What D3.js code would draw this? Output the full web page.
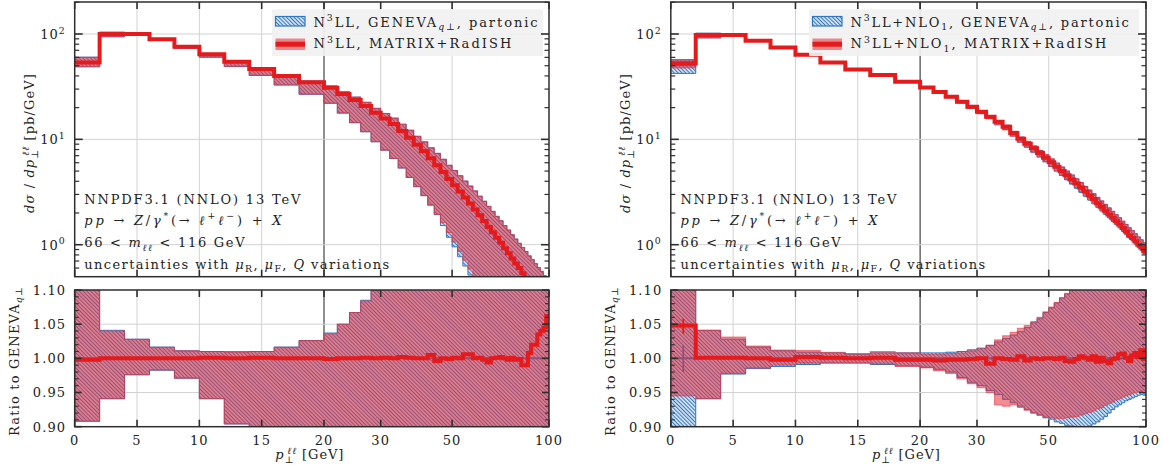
<!DOCTYPE html>
<html><head><meta charset="utf-8">
<script src="https://cdn.jsdelivr.net/npm/d3@7"></script>
<style>
html,body{margin:0;padding:0;background:#fff;}
svg{display:block;}
</style></head><body>
<svg id="chart" width="1163" height="472"></svg>
<script>
// ---------------- data ----------------
const binEdges = [0,2,4,6,8,10,12,14,16,18,20,22,24,26,28,30,32,34,36,38,40,42,44,46,48,50,52,54,56,58,60,62,64,66,68,70,72,74,76,78,80,82,84,86,88,90,92,94,96,98,100];

const xTickValues = [0,5,10,15,20,30,50,100];
const xTickLabels = ["0","5","10","15","20","30","50","100"];
const mainMajorTicks = [1,10,100];
const mainMajorExp = ["0","1","2"];
const mainMinorTicks = [0.6,0.7,0.8,0.9,2,3,4,5,6,7,8,9,20,30,40,50,60,70,80,90,200];
const ratioMajorTicks = [0.90,0.95,1.00,1.05,1.10];
const ratioTickLabels = ["0.90","0.95","1.00","1.05","1.10"];
const ratioMinorTicks = [0.91,0.92,0.93,0.94,0.96,0.97,0.98,0.99,1.01,1.02,1.03,1.04,1.06,1.07,1.08,1.09];

// Left panel: N3LL
const leftGeneva = [53.8,100,100,89,75.5,64,54.5,46.5,40,34.8,31,26.9,23.6,20.7,17.9,
  15.8,14.0,12.0,10.35,8.9,7.7,6.6,5.7,4.9,4.2,3.67,3.2,2.79,2.45,2.16,1.9,1.68,1.48,1.31,1.16,
  1.04,0.925,0.83,0.74,0.665,0.60,0.54,0.49,0.44,0.40,0.363,0.33,0.30,0.27,0.25];
const leftGenevaUp = [1.12,1.041,1.028,1.0165,1.011,1.010,1.0096,1.010,1.0165,1.026,1.037,1.05,1.067,1.085,1.099,
  1.115,1.135,1.16,1.18,1.20,1.23,1.26,1.29,1.32,1.35,1.38,1.41,1.44,1.47,1.50,1.52,1.54,1.56,1.58,1.60,
  1.62,1.64,1.66,1.68,1.70,1.72,1.74,1.76,1.78,1.80,1.82,1.84,1.86,1.88,1.90];
const leftGenevaDn = [0.908,0.941,0.976,0.9826,0.971,0.941,0.904,0.87,0.82,0.77,0.71,0.66,0.61,0.57,0.53,
  0.50,0.47,0.445,0.42,0.40,0.38,0.36,0.34,0.31,0.28,0.26,0.24,0.225,0.21,0.20,0.19,0.18,0.17,0.16,0.155,
  0.15,0.145,0.14,0.135,0.13,0.125,0.12,0.115,0.11,0.11,0.105,0.10,0.10,0.095,0.095];
const leftMatrixRatio = [0.998,1.0,1.0,1.0,1.0,1.001,1.0,1.001,1.0,1.0,0.999,1.0,1.0,1.001,1.0,
  1.001,1.0,1.002,1.001,1.0,1.0,1.005,0.996,1.0,0.999,1.001,1.0,1.006,1.006,1.0,1.001,0.998,0.994,1.0,1.001,
  1.002,1.0,0.998,1.001,0.998,0.999,0.99,0.99,1.008,1.02,1.02,1.035,1.04,1.045,1.062];
const leftMatrixUp = [1.12,1.040,1.028,1.016,1.011,1.010,1.0095,1.010,1.016,1.026,1.036,1.05,1.067,1.084,1.099,
  1.115,1.135,1.16,1.18,1.20,1.23,1.26,1.29,1.32,1.35,1.38,1.41,1.44,1.47,1.50,1.52,1.54,1.56,1.58,1.60,
  1.62,1.64,1.66,1.68,1.70,1.72,1.74,1.76,1.78,1.80,1.82,1.84,1.86,1.88,1.90];
const leftMatrixDn = [0.908,0.941,0.976,0.983,0.971,0.941,0.904,0.87,0.82,0.77,0.71,0.66,0.61,0.57,0.53,
  0.50,0.47,0.445,0.42,0.40,0.38,0.36,0.34,0.33,0.31,0.29,0.27,0.255,0.24,0.225,0.19,0.18,0.17,0.16,0.155,
  0.15,0.145,0.14,0.135,0.13,0.125,0.12,0.115,0.11,0.11,0.105,0.10,0.10,0.095,0.095];

// Right panel: N3LL+NLO1
const rightGeneva = [50.3,97.7,97.7,86.3,74.5,63.5,53.5,46,40.8,35.2,31.2,28.3,25.4,22.8,20.4,
  18.3,16.5,14.7,13.2,11.5,10.1,9.12,8.22,7.41,6.70,6.07,5.51,5.01,4.57,4.17,3.81,3.49,3.20,2.94,2.70,
  2.48,2.29,2.11,1.95,1.80,1.67,1.55,1.43,1.33,1.23,1.15,1.07,0.995,0.93,0.867];
const rightGenevaUp = [1.13,1.041,1.028,1.0165,1.011,1.009,1.008,1.006,1.008,1.008,1.008,1.008,1.009,1.010,1.0125,
  1.015,1.019,1.024,1.029,1.034,1.039,1.045,1.052,1.058,1.067,1.074,1.081,1.088,1.094,1.100,1.106,1.11,1.115,1.12,1.125,
  1.13,1.135,1.14,1.145,1.15,1.155,1.16,1.165,1.17,1.175,1.18,1.185,1.19,1.195,1.20];
const rightGenevaDn = [0.84,0.941,0.977,0.985,0.988,0.991,0.993,0.993,0.991,0.989,0.987,0.984,0.980,0.972,0.965,
  0.960,0.953,0.947,0.940,0.935,0.930,0.925,0.920,0.917,0.913,0.911,0.907,0.905,0.902,0.901,0.900,0.899,0.899,0.901,0.904,
  0.907,0.911,0.915,0.920,0.925,0.929,0.932,0.935,0.938,0.940,0.942,0.944,0.946,0.947,0.946];
const rightMatrixRatio = [1.048,1.001,1.001,1.0,0.998,1.002,1.001,1.0,1.001,0.998,0.998,0.997,0.998,0.998,0.999,
  1.0,0.992,1.0,0.999,0.998,1.003,0.997,1.0,0.999,1.0,1.0,0.999,1.001,0.996,0.995,0.999,1.003,1.001,0.998,1.003,
  0.995,1.001,0.996,0.993,0.999,1.0,1.006,1.007,1.001,0.996,1.004,1.008,1.002,1.012,0.999];
const rightMatrixUp = [1.14,1.041,1.031,1.018,1.012,1.0115,1.009,1.007,1.010,1.008,1.006,1.006,1.007,1.008,1.011,
  1.014,1.019,1.027,1.033,1.038,1.044,1.048,1.054,1.060,1.068,1.075,1.082,1.089,1.095,1.102,1.108,1.115,1.12,1.125,1.13,
  1.135,1.14,1.145,1.15,1.155,1.16,1.165,1.17,1.175,1.18,1.185,1.19,1.195,1.20,1.205];
const rightMatrixDn = [0.945,0.941,0.978,0.986,0.990,0.993,0.994,0.994,0.992,0.988,0.986,0.982,0.978,0.970,0.963,
  0.957,0.950,0.932,0.930,0.932,0.928,0.924,0.920,0.917,0.914,0.913,0.912,0.912,0.913,0.914,0.915,0.917,0.919,0.921,0.923,
  0.926,0.928,0.931,0.934,0.936,0.939,0.941,0.943,0.945,0.947,0.949,0.950,0.951,0.952,0.953];
const rightErrGenevaBin0 = [0.980,1.019];
const rightErrMatrixBin0 = [1.036,1.058];

// ---------------- style / layout ----------------
const FONT = '"DejaVu Serif", serif';
const TXT = "#222";
const BLUE = "#3177c0";
const RED = "#e41a1c";
const RED_FILL = "rgba(232,45,58,0.55)";
const GRID = "#d2d2d2";
const FRAME = "#2e2e2e";
const MAIN_TOP = 2, MAIN_BOT = 276.7, Y_ONE = 244.7, Y_HUNDRED = 34;
const RAT_TOP = 290, RAT_BOT = 426.7;

const svg = d3.select("#chart");
const defs = svg.append("defs");
const pat = defs.append("pattern").attr("id","blueHatch").attr("patternUnits","userSpaceOnUse")
  .attr("width",2.7).attr("height",10).attr("patternTransform","rotate(-45)");
pat.append("rect").attr("width",2.7).attr("height",10).attr("fill","#fff");
pat.append("line").attr("x1",1.35).attr("x2",1.35).attr("y1",0).attr("y2",10)
  .attr("stroke",BLUE).attr("stroke-width",1.35);

function rich(parent, x, y, parts, opts = {}) {
  const t = parent.append("text").attr("x",x).attr("y",y)
    .attr("font-family",FONT).attr("font-size",opts.size || 13).attr("fill",TXT);
  if (opts.anchor) t.attr("text-anchor",opts.anchor);
  if (opts.rotate) t.attr("transform",`rotate(-90 ${x} ${y})`);
  let shift = 0;
  parts.forEach(p => {
    const s = p[0], f = p[1] || "", dx = p[2];
    const sup = f.includes("^"), sub = f.includes("_");
    const target = sup ? -5.5 : sub ? 3.5 : 0;
    const ts = t.append("tspan").text(s);
    if (target !== shift) ts.attr("dy", target - shift);
    shift = target;
    if (sup || sub) ts.attr("font-size","72%");
    if (f.includes("i")) ts.attr("font-style","italic");
    if (dx) ts.attr("dx",dx);
  });
  if (opts.width) {
    const node = t.node();
    const n = node.getNumberOfChars();
    const w = node.getComputedTextLength();
    t.attr("letter-spacing", Math.max(0,(opts.width - w) / n).toFixed(2));
  } else if (opts.ls !== undefined) {
    t.attr("letter-spacing", opts.ls);
  }
  return t;
}

const steps = vals => vals.flatMap((v,i) => [[binEdges[i],v],[binEdges[i+1],v]]);
const bandPts = (lo,hi) => lo.flatMap((l,i) => [[binEdges[i],l,hi[i]],[binEdges[i+1],l,hi[i]]]);

function drawPanel(P) {
  const xLin = d3.scaleLinear().domain([0,20]).range([P.x0,P.x20]);
  const xLog = d3.scaleLog().domain([20,100]).range([P.x20,P.x100]);
  const X = v => v <= 20 ? xLin(v) : xLog(v);
  const yM = d3.scaleLog().domain([1,100]).range([Y_ONE,Y_HUNDRED]);
  const yR = d3.scaleLinear().domain([0.9,1.1]).range([RAT_BOT,RAT_TOP]);
  const W = P.x100 - P.x0;

  defs.append("clipPath").attr("id","clipM"+P.id).append("rect")
    .attr("x",P.x0).attr("y",MAIN_TOP).attr("width",W).attr("height",MAIN_BOT-MAIN_TOP);
  defs.append("clipPath").attr("id","clipR"+P.id).append("rect")
    .attr("x",P.x0).attr("y",RAT_TOP).attr("width",W).attr("height",RAT_BOT-RAT_TOP);

  const g = svg.append("g");

  // grids
  const gridM = g.append("g");
  xTickValues.filter(v => v > 0 && v < 100).forEach(v => {
    gridM.append("line").attr("x1",X(v)).attr("x2",X(v)).attr("y1",MAIN_TOP).attr("y2",MAIN_BOT)
      .attr("stroke", v === 20 ? "#1e1e1e" : GRID).attr("stroke-width",1);
    gridM.append("line").attr("x1",X(v)).attr("x2",X(v)).attr("y1",RAT_TOP).attr("y2",RAT_BOT)
      .attr("stroke", v === 20 ? "#1e1e1e" : GRID).attr("stroke-width",1);
  });
  mainMajorTicks.forEach(v => gridM.append("line").attr("x1",P.x0).attr("x2",P.x100)
    .attr("y1",yM(v)).attr("y2",yM(v)).attr("stroke",GRID));
  [0.95,1.0,1.05].forEach(v => gridM.append("line").attr("x1",P.x0).attr("x2",P.x100)
    .attr("y1",yR(v)).attr("y2",yR(v)).attr("stroke",GRID));

  // ---- main plot ----
  const m = g.append("g").attr("clip-path",`url(#clipM${P.id})`);
  const gLo = P.G.map((v,i) => v*P.GDn[i]), gHi = P.G.map((v,i) => v*P.GUp[i]);
  const mC = P.G.map((v,i) => v*P.MR[i]);
  const mLo = P.G.map((v,i) => v*P.MDn[i]), mHi = P.G.map((v,i) => v*P.MUp[i]);
  const areaM = d3.area().x(d => X(d[0])).y0(d => yM(d[1])).y1(d => yM(d[2]));
  const lineM = d3.line().x(d => X(d[0])).y(d => yM(d[1]));
  m.append("path").attr("d",areaM(bandPts(gLo,gHi))).attr("fill","url(#blueHatch)")
    .attr("stroke",BLUE).attr("stroke-width",1);
  m.append("path").attr("d",lineM(steps(P.G))).attr("fill","none").attr("stroke",BLUE).attr("stroke-width",1.5);
  m.append("path").attr("d",areaM(bandPts(mLo,mHi))).attr("fill",RED_FILL)
    .attr("stroke",RED_FILL).attr("stroke-width",1.1);
  m.append("path").attr("d",lineM(steps(mC))).attr("fill","none").attr("stroke",RED)
    .attr("stroke-width",4).attr("stroke-linejoin","miter");

  // ---- ratio plot ----
  const r = g.append("g").attr("clip-path",`url(#clipR${P.id})`);
  const ones = P.G.map(() => 1);
  const areaR = d3.area().x(d => X(d[0])).y0(d => yR(d[1])).y1(d => yR(d[2]));
  const lineR = d3.line().x(d => X(d[0])).y(d => yR(d[1]));
  r.append("path").attr("d",areaR(bandPts(P.GDn,P.GUp))).attr("fill","url(#blueHatch)")
    .attr("stroke",BLUE).attr("stroke-width",1);
  r.append("path").attr("d",lineR(steps(ones))).attr("fill","none").attr("stroke",BLUE).attr("stroke-width",2);
  if (P.errG) r.append("line").attr("x1",X(1)).attr("x2",X(1)).attr("y1",yR(P.errG[0])).attr("y2",yR(P.errG[1]))
    .attr("stroke",BLUE).attr("stroke-width",1.8);
  r.append("path").attr("d",areaR(bandPts(P.MDn,P.MUp))).attr("fill",RED_FILL)
    .attr("stroke",RED_FILL).attr("stroke-width",1.1);
  r.append("path").attr("d",lineR(steps(P.MR))).attr("fill","none").attr("stroke",RED)
    .attr("stroke-width",4).attr("stroke-linejoin","miter");
  if (P.errM) r.append("line").attr("x1",X(1)).attr("x2",X(1)).attr("y1",yR(P.errM[0])).attr("y2",yR(P.errM[1]))
    .attr("stroke",RED).attr("stroke-width",1.8);

  // ---- legend ----
  const L = g.append("g");
  L.append("rect").attr("x",P.legX).attr("y",9.3).attr("width",P.legW).attr("height",46.7)
    .attr("fill","#f1f1f1").attr("opacity",0.92);
  L.append("rect").attr("x",P.legX+3.5).attr("y",16.5).attr("width",29.5).attr("height",9.5)
    .attr("fill","url(#blueHatch)").attr("stroke",BLUE).attr("stroke-width",1.2);
  L.append("rect").attr("x",P.legX+3.5).attr("y",38.5).attr("width",29.5).attr("height",11.5).attr("fill",RED_FILL);
  L.append("line").attr("x1",P.legX+3.5).attr("x2",P.legX+33).attr("y1",44.2).attr("y2",44.2)
    .attr("stroke",RED).attr("stroke-width",5);
  rich(L, P.legX+41.5, 26.5, P.leg1, {width:P.leg1W});
  rich(L, P.legX+41.5, 48, P.leg2, {width:P.leg2W});

  // ---- annotations ----
  const ax = P.x0 + 9.6;
  rich(g, ax, 204, [["NNPDF3.1 (NNLO) 13 TeV"]], {width:218});
  rich(g, ax, 224.5, [["pp","i"],[" → "],["Z","i"],["/"],["γ","i"],["*","^"],["(→ "],["ℓ","i"],["+","^"],["ℓ","i"],["−","^"],[") + "],["X","i"]], {width:200});
  rich(g, ax, 247, [["66 < "],["m","i"],["ℓℓ","_i"],[" < 116 GeV"]], {width:162});
  rich(g, ax, 268.5, [["uncertainties with "],["μ","i"],["R","_"],[", "],["μ","i"],["F","_"],[", "],["Q","i"],[" variations"]], {width:306});

  // ---- frames & ticks ----
  const f = g.append("g").attr("stroke",FRAME);
  [[MAIN_TOP,MAIN_BOT],[RAT_TOP,RAT_BOT]].forEach(([t,b]) => {
    f.append("rect").attr("x",P.x0).attr("y",t).attr("width",W).attr("height",b-t)
      .attr("fill","none").attr("stroke-width",1.5);
    xTickValues.forEach(v => {
      f.append("line").attr("x1",X(v)).attr("x2",X(v)).attr("y1",t).attr("y2",t+7).attr("stroke-width",1.6);
      f.append("line").attr("x1",X(v)).attr("x2",X(v)).attr("y1",b).attr("y2",b-7).attr("stroke-width",1.6);
    });
  });
  mainMajorTicks.forEach(v => {
    f.append("line").attr("x1",P.x0).attr("x2",P.x0+8).attr("y1",yM(v)).attr("y2",yM(v)).attr("stroke-width",1.6);
    f.append("line").attr("x1",P.x100).attr("x2",P.x100-8).attr("y1",yM(v)).attr("y2",yM(v)).attr("stroke-width",1.6);
  });
  mainMinorTicks.forEach(v => {
    f.append("line").attr("x1",P.x0).attr("x2",P.x0+4.5).attr("y1",yM(v)).attr("y2",yM(v)).attr("stroke-width",1.2);
    f.append("line").attr("x1",P.x100).attr("x2",P.x100-4.5).attr("y1",yM(v)).attr("y2",yM(v)).attr("stroke-width",1.2);
  });
  ratioMajorTicks.forEach(v => {
    f.append("line").attr("x1",P.x0).attr("x2",P.x0+7).attr("y1",yR(v)).attr("y2",yR(v)).attr("stroke-width",1.6);
    f.append("line").attr("x1",P.x100).attr("x2",P.x100-7).attr("y1",yR(v)).attr("y2",yR(v)).attr("stroke-width",1.6);
  });
  ratioMinorTicks.forEach(v => {
    f.append("line").attr("x1",P.x0).attr("x2",P.x0+4).attr("y1",yR(v)).attr("y2",yR(v)).attr("stroke-width",1.1);
    f.append("line").attr("x1",P.x100).attr("x2",P.x100-4).attr("y1",yR(v)).attr("y2",yR(v)).attr("stroke-width",1.1);
  });

  // ---- tick labels ----
  mainMajorTicks.forEach((v,i) => {
    rich(g, P.x0-9, yM(v)+5, [["10"],[mainMajorExp[i],"^"]], {anchor:"end", ls:1});
  });
  ratioMajorTicks.forEach((v,i) => {
    rich(g, P.x0-8.5, yR(v)+4.8, [[ratioTickLabels[i]]], {anchor:"end", ls:1.1});
  });
  xTickValues.forEach((v,i) => {
    rich(g, X(v), 445, [[xTickLabels[i]]], {anchor:"middle", ls:1.1});
  });

  // ---- axis titles ----
  rich(g, (P.x0+P.x100)/2 - 2, 459, [["p","i"],["⊥","_"],["ℓℓ","^i",-7],[" [GeV]"]], {anchor:"middle", width:76});
  rich(g, P.x0-40.5, 143, [["d","i"],["σ","i"],[" / "],["d","i"],["p","i"],["⊥","_"],["ℓℓ","^i",-7],[" [pb/GeV]"]],
    {anchor:"middle", rotate:true, width:147});
  rich(g, P.x0-56, 361, [["Ratio to GENEVA"],["q","_i"],["⊥","_"]], {anchor:"middle", rotate:true, width:150});
}

drawPanel({id:"L", x0:74.7, x20:324, x100:549, legX:272, legW:271,
  G:leftGeneva, GUp:leftGenevaUp, GDn:leftGenevaDn, MR:leftMatrixRatio, MUp:leftMatrixUp, MDn:leftMatrixDn,
  leg1:[["N"],["3","^"],["LL, GENEVA"],["q⊥","_i"],[", partonic"]], leg1W:226,
  leg2:[["N"],["3","^"],["LL, MATRIX+RadISH"]], leg2W:200});
drawPanel({id:"R", x0:670.8, x20:920.1, x100:1146, legX:809, legW:330,
  G:rightGeneva, GUp:rightGenevaUp, GDn:rightGenevaDn, MR:rightMatrixRatio, MUp:rightMatrixUp, MDn:rightMatrixDn,
  errG:rightErrGenevaBin0, errM:rightErrMatrixBin0,
  leg1:[["N"],["3","^"],["LL+NLO"],["1","_"],[", GENEVA"],["q⊥","_i"],[", partonic"]], leg1W:280,
  leg2:[["N"],["3","^"],["LL+NLO"],["1","_"],[", MATRIX+RadISH"]], leg2W:258});
</script>
</body></html>
